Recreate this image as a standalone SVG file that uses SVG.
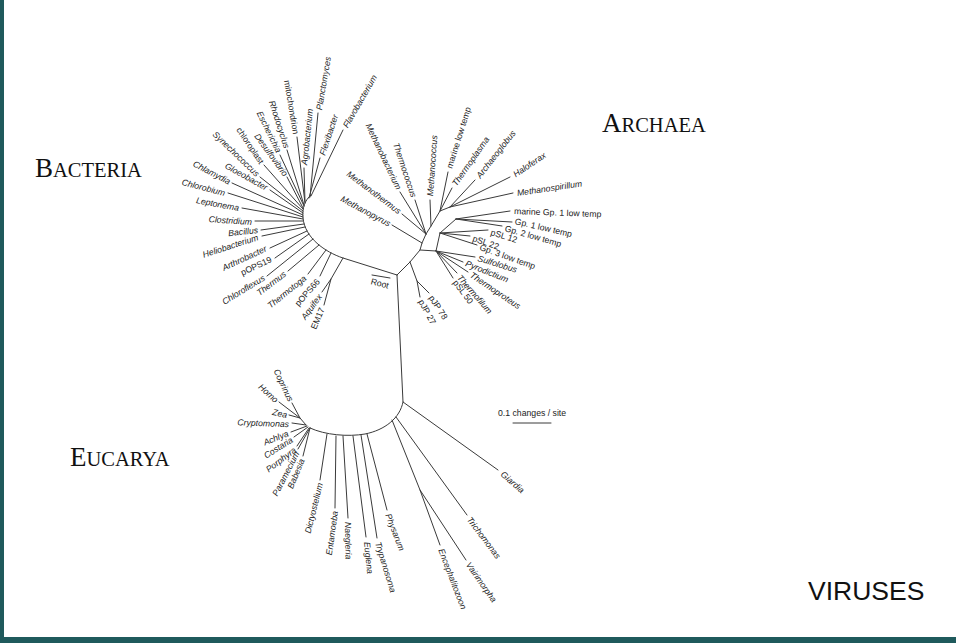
<svg xmlns="http://www.w3.org/2000/svg" width="956" height="643" viewBox="0 0 956 643">
<style>
.l{stroke:#3a3a3a;stroke-width:1;fill:none;stroke-linecap:round;stroke-linejoin:round}
.t{font-family:"Liberation Sans",Arial,sans-serif;font-size:8.7px;font-style:italic;fill:#222}
.u{font-style:normal}
.e{text-anchor:end}
.h{font-family:"Liberation Serif","Times New Roman",serif;fill:#111;font-size:27px}
.v{font-family:"Liberation Sans",Arial,sans-serif;fill:#111;font-size:26.5px}
</style>
<rect x="0" y="0" width="956" height="643" fill="#ffffff"/>
<rect x="0" y="0" width="4" height="643" fill="#1f5a5c"/>
<rect x="0" y="637" width="956" height="6" fill="#1f5a5c"/>

<g id="connectors">
<path class="l" d="M397 275 L343 258 C325 252 305 238 303 218 C302 208 305 200 311 195"/>
<path class="l" d="M311 196 L343 130 M310 197 L318 113 M309 198 L320 158 M305 202 L304 168 M305 203 L297 137 M304 205 L287 150 M304 206 L280 155 M303 208 L287 177 M303 209 L264 165 M303 211 L260 177 M303 213 L270 190 M303 215 L232 183 M303 217 L228 193 M303 219 L242 208 M303 221 L255 221 M304 224 L261 230 M305 227 L262 236 M307 231 L270 248 M309 234 L275 258 M313 239 L267 276 M319 245 L288 271 M326 250 L308 274 M331 253 L320 276 M343 258 L331 279 L322 292 M331 279 L324 305"/>
<path class="l" d="M372 275 L390 278"/>
<path class="l" d="M397 275 L410 262 L420 250 L422 243 L426 234 L431 226 L440 211 L450 207"/>
<path class="l" d="M410 262 L417 281 L429 293 M417 281 L420 297"/>
<path class="l" d="M420 250 L436 251 L440 233 L456 219"/>
<path class="l" d="M436 251 L475 257 M436 251 L463 262 M436 251 L468 272 M436 251 L457 273 M436 251 L453 278"/>
<path class="l" d="M440 233 L488 230 M440 233 L470 236 M440 233 L477 245"/>
<path class="l" d="M456 219 L510 211 M456 219 L512 222 M456 219 L502 226"/>
<path class="l" d="M422 243 L392 225 M426 234 L402 214 M426 234 L400 192 M426 234 L415 200 M431 226 L430 200 M440 211 L448 172 M440 211 L452 188 M450 207 L475 180 M450 207 L510 177 M450 207 L513 193"/>
<path class="l" d="M397 275 L403 402 L498 470"/>
<path class="l" d="M403 402 C400 418 385 430 365 434 C348 437 325 435 310 428"/>
<path class="l" d="M396 417 L467 515 M392 420 L420 490 L440 545 M420 490 L466 560 M367 434 L387 510 M361 435 L377 538 M353 436 L366 537 M343 436 L348 518 M336 436 L335 508 M327 434 L320 480"/>
<path class="l" d="M310 428 L303 456 M310 428 L298 449 M309 428 L297 446 M308 427 L294 437 M307 426 L291 432 M306 425 L292 423 M306 425 L300 418 L289 415 M300 418 L279 402 M300 418 L292 403"/>
<path class="l" d="M513 423 L551 423"/>
</g>

<g id="titles">
<text id="bacteria-title" class="h" x="35" y="177">B<tspan font-size="20.5">ACTERIA</tspan></text>
<text id="archaea-title" class="h" x="602" y="132">A<tspan font-size="20.5">RCHAEA</tspan></text>
<text id="eucarya-title" class="h" x="70" y="466">E<tspan font-size="20.5">UCARYA</tspan></text>
<text id="viruses-title" class="v" x="808" y="600">VIRUSES</text>
</g>

<g id="bacteria">
<g id="n-flavobacterium"><text class="t" transform="translate(345 127) rotate(-60)" dy="0.35em">Flavobacterium</text></g>
<g id="n-planctomyces"><text class="t" transform="translate(319 110) rotate(-80.5)" dy="0.35em">Planctomyces</text></g>
<g id="n-flexibacter"><text class="t" transform="translate(322 155) rotate(-71.6)" dy="0.35em">Flexibacter</text></g>
<g id="n-agrobacterium"><text class="t" transform="translate(304 165) rotate(-84)" dy="0.35em">Agrobacterium</text></g>
<g id="n-mitochondrion"><text class="t u e" transform="translate(296 134) rotate(80.6)" dy="0.35em">mitochondrion</text></g>
<g id="n-rhodocyclus"><text class="t e" transform="translate(287 148) rotate(72)" dy="0.35em">Rhodocyclus</text></g>
<g id="n-escherichia"><text class="t e" transform="translate(279 152) rotate(64)" dy="0.35em">Escherichia</text></g>
<g id="n-desulfovibrio"><text class="t e" transform="translate(286 175) rotate(54)" dy="0.35em">Desulfovibrio</text></g>
<g id="n-chloroplast"><text class="t u e" transform="translate(262 163) rotate(56)" dy="0.35em">chloroplast</text></g>
<g id="n-synechococcus"><text class="t e" transform="translate(258 175) rotate(44)" dy="0.35em">Synechococcus</text></g>
<g id="n-gloeobacter"><text class="t e" transform="translate(267 188) rotate(29)" dy="0.35em">Gloeobacter</text></g>
<g id="n-chlamydia"><text class="t e" transform="translate(230 182) rotate(27.5)" dy="0.35em">Chlamydia</text></g>
<g id="n-chlorobium"><text class="t e" transform="translate(225 193) rotate(14.5)" dy="0.35em">Chlorobium</text></g>
<g id="n-leptonema"><text class="t e" transform="translate(239 208) rotate(10.5)" dy="0.35em">Leptonema</text></g>
<g id="n-clostridium"><text class="t e" transform="translate(252 222) rotate(4)" dy="0.35em">Clostridium</text></g>
<g id="n-bacillus"><text class="t e" transform="translate(258 230) rotate(-6)" dy="0.35em">Bacillus</text></g>
<g id="n-heliobacterium"><text class="t e" transform="translate(258 237) rotate(-18)" dy="0.35em">Heliobacterium</text></g>
<g id="n-arthrobacter"><text class="t e" transform="translate(266 248) rotate(-25)" dy="0.35em">Arthrobacter</text></g>
<g id="n-pops19"><text class="t u e" transform="translate(271 259) rotate(-25)" dy="0.35em">pOPS19</text></g>
<g id="n-chloroflexus"><text class="t e" transform="translate(264 277) rotate(-31.6)" dy="0.35em">Chloroflexus</text></g>
<g id="n-thermus"><text class="t e" transform="translate(285 273) rotate(-37)" dy="0.35em">Thermus</text></g>
<g id="n-thermotoga"><text class="t e" transform="translate(305 277) rotate(-39)" dy="0.35em">Thermotoga</text></g>
<g id="n-pops66"><text class="t u e" transform="translate(318 280) rotate(-49)" dy="0.35em">pOPS66</text></g>
<g id="n-aquifex"><text class="t e" transform="translate(320 295) rotate(-54)" dy="0.35em">Aquifex</text></g>
<g id="n-em17"><text class="t u e" transform="translate(322 308) rotate(-67)" dy="0.35em">EM17</text></g>
</g>

<g id="root"><text class="t u" transform="translate(371 281) rotate(15)" dy="0.35em">Root</text></g>

<g id="archaea">
<g id="n-methanococcus"><text class="t" transform="translate(430 196) rotate(-86)" dy="0.35em">Methanococcus</text></g>
<g id="n-marine-low-temp"><text class="t u" transform="translate(449 168) rotate(-72.5)" dy="0.35em">marine low temp</text></g>
<g id="n-thermoplasma"><text class="t" transform="translate(454 185) rotate(-55)" dy="0.35em">Thermoplasma</text></g>
<g id="n-archaeoglobus"><text class="t" transform="translate(478 177) rotate(-52)" dy="0.35em">Archaeoglobus</text></g>
<g id="n-haloferax"><text class="t" transform="translate(514 175) rotate(-34)" dy="0.35em">Haloferax</text></g>
<g id="n-methanospirillum"><text class="t" transform="translate(517 193) rotate(-8.5)" dy="0.35em">Methanospirillum</text></g>
<g id="n-marine-gp1"><text class="t u" transform="translate(514 211) rotate(2)" dy="0.35em">marine Gp. 1 low temp</text></g>
<g id="n-gp1"><text class="t u" transform="translate(515 221) rotate(13)" dy="0.35em">Gp. 1 low temp</text></g>
<g id="n-gp2"><text class="t u" transform="translate(505 228) rotate(16)" dy="0.35em">Gp. 2 low temp</text></g>
<g id="n-psl12"><text class="t u" transform="translate(491 232) rotate(17)" dy="0.35em">pSL 12</text></g>
<g id="n-psl22"><text class="t u" transform="translate(473 238) rotate(19)" dy="0.35em">pSL 22</text></g>
<g id="n-gp3"><text class="t u" transform="translate(480 247) rotate(19.4)" dy="0.35em">Gp. 3 low temp</text></g>
<g id="n-sulfolobus"><text class="t" transform="translate(478 258) rotate(17)" dy="0.35em">Sulfolobus</text></g>
<g id="n-pyrodictium"><text class="t" transform="translate(466 263) rotate(21.8)" dy="0.35em">Pyrodictium</text></g>
<g id="n-thermoproteus"><text class="t" transform="translate(471 274) rotate(34)" dy="0.35em">Thermoproteus</text></g>
<g id="n-thermofilum"><text class="t" transform="translate(459 276) rotate(49)" dy="0.35em">Thermofilum</text></g>
<g id="n-psl50"><text class="t u" transform="translate(455 281) rotate(53)" dy="0.35em">pSL 50</text></g>
<g id="n-pjp78"><text class="t u" transform="translate(431 296) rotate(57)" dy="0.35em">pJP 78</text></g>
<g id="n-pjp27"><text class="t u" transform="translate(421 300) rotate(62)" dy="0.35em">pJP 27</text></g>
<g id="n-methanobacterium"><text class="t e" transform="translate(399 189) rotate(64.6)" dy="0.35em">Methanobacterium</text></g>
<g id="n-thermococcus"><text class="t e" transform="translate(414 197) rotate(71.6)" dy="0.35em">Thermococcus</text></g>
<g id="n-methanothermus"><text class="t e" transform="translate(400 212) rotate(37)" dy="0.35em">Methanothermus</text></g>
<g id="n-methanopyrus"><text class="t e" transform="translate(390 224) rotate(28)" dy="0.35em">Methanopyrus</text></g>
</g>

<g id="eucarya">
<g id="n-giardia"><text class="t" transform="translate(502 473) rotate(40.6)" dy="0.35em">Giardia</text></g>
<g id="n-trichomonas"><text class="t" transform="translate(469 518) rotate(53)" dy="0.35em">Trichomonas</text></g>
<g id="n-vairimorpha"><text class="t" transform="translate(468 563) rotate(55)" dy="0.35em">Vairimorpha</text></g>
<g id="n-encephalitozoon"><text class="t" transform="translate(441 549) rotate(69)" dy="0.35em">Encephalitozoon</text></g>
<g id="n-physarum"><text class="t" transform="translate(388 514) rotate(68.6)" dy="0.35em">Physarum</text></g>
<g id="n-trypanosoma"><text class="t" transform="translate(378 542) rotate(73)" dy="0.35em">Trypanosoma</text></g>
<g id="n-euglena"><text class="t" transform="translate(367 542) rotate(84)" dy="0.35em">Euglena</text></g>
<g id="n-naegleria"><text class="t" transform="translate(348 522) rotate(89)" dy="0.35em">Naegleria</text></g>
<g id="n-entamoeba"><text class="t e" transform="translate(335 511) rotate(-82)" dy="0.35em">Entamoeba</text></g>
<g id="n-dictyostelium"><text class="t e" transform="translate(320 483) rotate(-76)" dy="0.35em">Dictyostelium</text></g>
<g id="n-babesia"><text class="t e" transform="translate(302 459) rotate(-67.6)" dy="0.35em">Babesia</text></g>
<g id="n-paramecium"><text class="t e" transform="translate(297 452) rotate(-62.6)" dy="0.35em">Paramecium</text></g>
<g id="n-porphyra"><text class="t e" transform="translate(295 449) rotate(-37)" dy="0.35em">Porphyra</text></g>
<g id="n-costaria"><text class="t e" transform="translate(292 439) rotate(-32)" dy="0.35em">Costaria</text></g>
<g id="n-achlya"><text class="t e" transform="translate(288 433) rotate(-22)" dy="0.35em">Achlya</text></g>
<g id="n-cryptomonas"><text class="t e" transform="translate(289 424) rotate(2)" dy="0.35em">Cryptomonas</text></g>
<g id="n-zea"><text class="t e" transform="translate(287 415) rotate(12)" dy="0.35em">Zea</text></g>
<g id="n-homo"><text class="t e" transform="translate(277 401) rotate(42)" dy="0.35em">Homo</text></g>
<g id="n-coprinus"><text class="t e" transform="translate(291 401) rotate(64.7)" dy="0.35em">Coprinus</text></g>
</g>

<g id="scale"><text class="t u" x="498" y="416">0.1 changes / site</text></g>
</svg>
